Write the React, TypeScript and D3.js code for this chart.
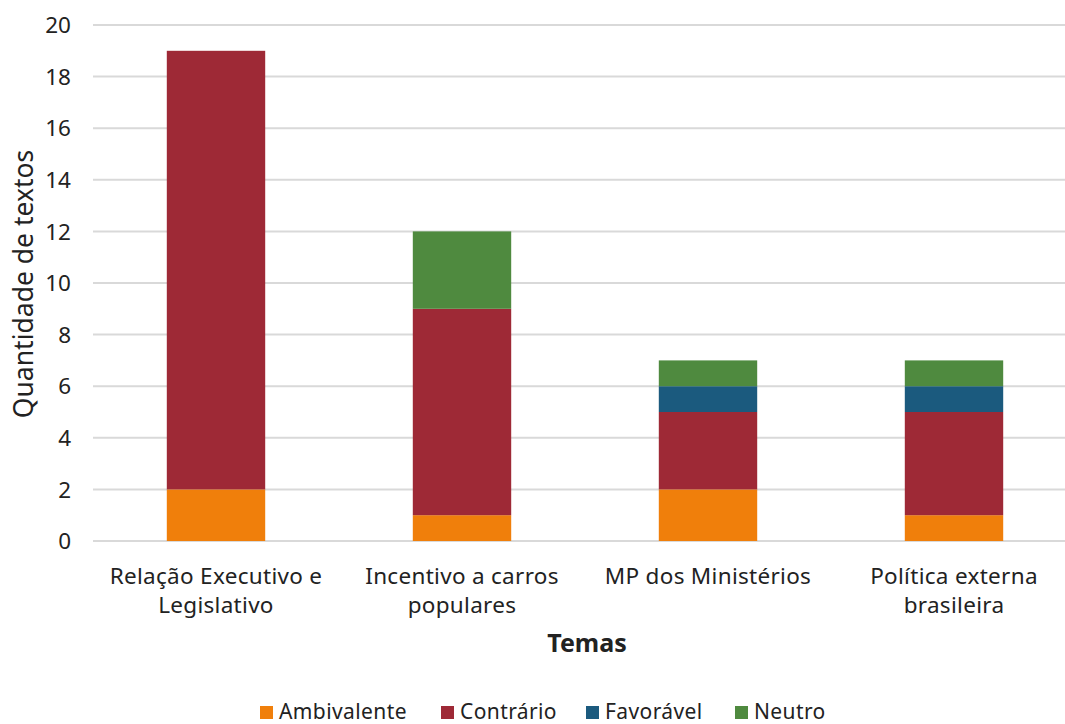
import React from "react";
import * as d3 from "d3";

const categories = [
  ["Relação Executivo e", "Legislativo"],
  ["Incentivo a carros", "populares"],
  ["MP dos Ministérios"],
  ["Política externa", "brasileira"],
];
const seriesNames = ["Ambivalente", "Contrário", "Favorável", "Neutro"];
const ambivalente = [2, 1, 2, 1];
const contrario = [17, 8, 3, 4];
const favoravel = [0, 0, 1, 1];
const neutro = [0, 3, 1, 1];
const colors = ["#F07F0B", "#9E2936", "#1B5A7E", "#4F8A3F"];
const yTicks = [0, 2, 4, 6, 8, 10, 12, 14, 16, 18, 20];

const W = 1065;
const H = 724;
const FONT = "'Noto Sans', 'Open Sans', sans-serif";

export default function App() {
  const keys = categories.map((c) => c.join(" "));
  const rows = keys.map((k, i) => ({
    key: k,
    Ambivalente: ambivalente[i],
    Contrário: contrario[i],
    Favorável: favoravel[i],
    Neutro: neutro[i],
  }));
  const stacked = d3.stack<any>().keys(seriesNames)(rows);

  const x = d3
    .scaleBand<string>()
    .domain(keys)
    .range([93, 1077])
    .paddingInner(0.6)
    .paddingOuter(0.3);
  const y = d3.scaleLinear().domain([0, 20]).range([541, 25]);

  const legendX = [260, 441, 586, 735];

  return (
    <svg
      width={W}
      height={H}
      style={{ position: "absolute", left: 0, top: 0, background: "#fff" }}
      fontFamily={FONT}
    >
      {yTicks.map((t) => (
        <g key={t}>
          <line x1={93} x2={W} y1={y(t)} y2={y(t)} stroke="#d9d9d9" strokeWidth={2} />
          <text x={71} y={y(t)} dy="0.36em" textAnchor="end" fontSize={22.5} fill="#222">
            {t}
          </text>
        </g>
      ))}
      {stacked.map((s, si) =>
        s.map((d, i) =>
          d[1] - d[0] > 0 ? (
            <rect
              key={`${si}-${i}`}
              x={x(keys[i])}
              width={x.bandwidth()}
              y={y(d[1])}
              height={y(d[0]) - y(d[1])}
              fill={colors[si]}
            />
          ) : null
        )
      )}
      {categories.map((lines, i) =>
        lines.map((l, j) => (
          <text
            key={`${i}-${j}`}
            x={(x(keys[i]) as number) + x.bandwidth() / 2}
            y={584 + j * 29}
            textAnchor="middle"
            fontSize={22.5}
            letterSpacing={0.3}
            fill="#222"
          >
            {l}
          </text>
        ))
      )}
      <text x={587} y={652} textAnchor="middle" fontSize={25} fontWeight="bold" fill="#222">
        Temas
      </text>
      <text
        transform={`translate(33, 284) rotate(-90)`}
        textAnchor="middle"
        fontSize={26.5}
        fill="#222"
      >
        Quantidade de textos
      </text>
      {seriesNames.map((n, i) => (
        <g key={n}>
          <rect x={legendX[i]} y={706} width={13} height={13} fill={colors[i]} />
          <text x={legendX[i] + 19} y={719} fontSize={21} letterSpacing={0.4} fill="#222">
            {n}
          </text>
        </g>
      ))}
    </svg>
  );
}
